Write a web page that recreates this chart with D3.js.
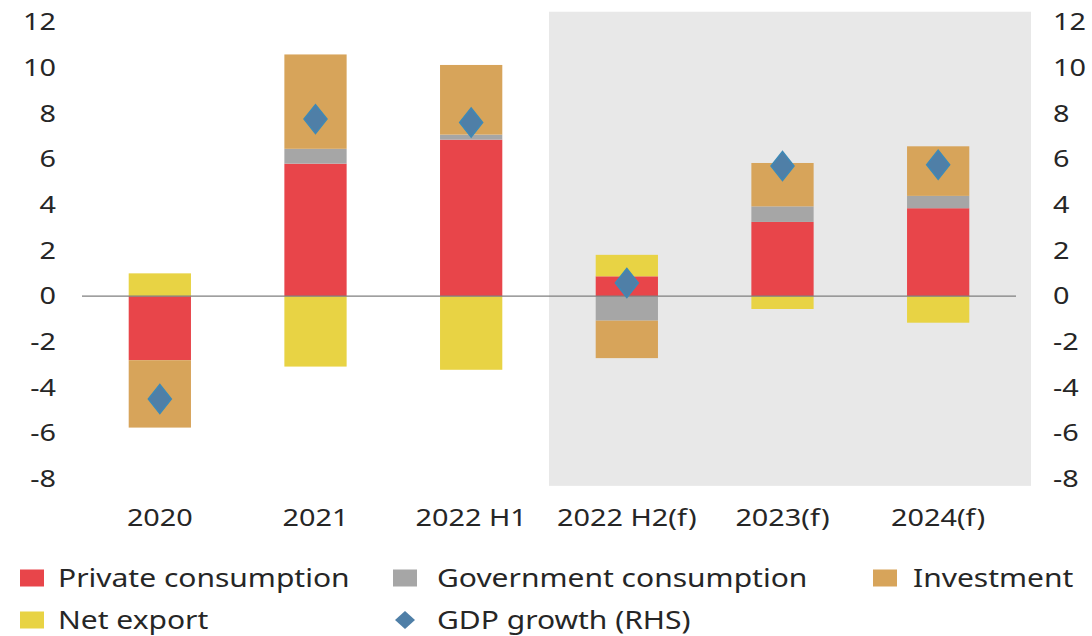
<!DOCTYPE html>
<html>
<head>
<meta charset="utf-8">
<script src="https://cdn.jsdelivr.net/npm/d3@7"></script>
<style>
  body { margin: 0; background: #fff; }
  text { font-family: "Noto Sans", "Open Sans", sans-serif; fill: #262626; }
</style>
</head>
<body>
<div id="chart"></div>
<script>
/**
 * DATA
 **/
const categories = ["2020", "2021", "2022 H1", "2022 H2(f)", "2023(f)", "2024(f)"];
const privateConsumption = [-2.8, 5.8, 6.85, 0.87, 3.25, 3.85];
const governmentConsumption = [0, 0.65, 0.22, -1.07, 0.68, 0.54];
const investment = [-2.95, 4.13, 3.05, -1.64, 1.9, 2.17];
const netExport = [1.0, -3.08, -3.22, 0.94, -0.56, -1.16];
const gdpGrowth = [-4.5, 7.75, 7.6, 0.58, 5.7, 5.75];
const yTicks = [-8, -6, -4, -2, 0, 2, 4, 6, 8, 10, 12];
const forecastFrom = "2022 H2(f)";

const seriesKeys = ["Private consumption", "Government consumption", "Investment", "Net export"];
const seriesValues = [privateConsumption, governmentConsumption, investment, netExport];
const colors = ["#E8454A", "#A6A6A6", "#D7A45A", "#E8D344"];

/**
 * CONSTANTS
 **/
const width = 1092, height = 636,
  stretch = "scale(1.2,1)"; // the source text is drawn a bit wide

const svg = d3.select("#chart")
  .append("svg")
  .attr("width", width)
  .attr("height", height);

// SCALES
const xScale = d3.scaleBand()
  .domain(categories)
  .range([82, 1016])
  .paddingInner(0.6)
  .paddingOuter(0.3);

const yScale = d3.scaleLinear()
  .domain([-8, 12])
  .range([479, 22]);

// table for the stack
const table = categories.map((c, i) => {
  const row = { category: c };
  seriesKeys.forEach((k, j) => row[k] = seriesValues[j][i]);
  return row;
});

const stacked = d3.stack()
  .keys(seriesKeys)
  .offset(d3.stackOffsetDiverging)(table);

// forecast shading
const shadeLeft = xScale(forecastFrom) - (xScale.step() - xScale.bandwidth()) / 2;
svg.append("rect")
  .attr("x", shadeLeft)
  .attr("y", yScale(12.45))
  .attr("width", 1031 - shadeLeft)
  .attr("height", yScale(-8.3) - yScale(12.45))
  .attr("fill", "#E8E8E8");

// bars
svg.append("g")
  .selectAll("g")
  .data(stacked)
  .join("g")
  .attr("fill", (d, i) => colors[i])
  .selectAll("rect")
  .data(d => d)
  .join("rect")
  .attr("x", d => xScale(d.data.category))
  .attr("width", xScale.bandwidth())
  .attr("y", d => yScale(Math.max(d[0], d[1])))
  .attr("height", d => Math.abs(yScale(d[0]) - yScale(d[1])));

// zero line
svg.append("line")
  .attr("x1", xScale.range()[0])
  .attr("x2", xScale.range()[1])
  .attr("y1", yScale(0))
  .attr("y2", yScale(0))
  .attr("stroke", "#7F7F7F")
  .attr("stroke-width", 1.3);

// GDP diamonds
const diamond = "M0,-14.5L11.5,0L0,14.5L-11.5,0Z";
svg.append("g")
  .selectAll("path")
  .data(gdpGrowth)
  .join("path")
  .attr("d", diamond)
  .attr("transform", (d, i) => `translate(${xScale(categories[i]) + xScale.bandwidth() / 2},${yScale(d)})`)
  .attr("fill", "#4F7FA7")
  .attr("stroke", "#3E89B6")
  .attr("stroke-width", 1.5);

// AXES (plain hyphen for negatives, like the source)
const tickFmt = d => String(d);
const yAxisLeft = d3.axisLeft(yScale).tickValues(yTicks).tickFormat(tickFmt).tickSize(0).tickPadding(0);
const yAxisRight = d3.axisRight(yScale).tickValues(yTicks).tickFormat(tickFmt).tickSize(0).tickPadding(0);

svg.append("g")
  .attr("transform", "translate(56,0)")
  .call(yAxisLeft)
  .call(g => g.select(".domain").remove())
  .selectAll("text")
  .attr("x", 0)
  .attr("transform", stretch)
  .style("font-size", "24px")
  .attr("fill", "#262626");

svg.append("g")
  .attr("transform", "translate(1053,0)")
  .call(yAxisRight)
  .call(g => g.select(".domain").remove())
  .selectAll("text")
  .attr("x", 0)
  .attr("transform", stretch)
  .style("font-size", "24px")
  .attr("fill", "#262626");

const xAxis = d3.axisBottom(xScale).tickSize(0).tickPadding(0);
svg.append("g")
  .attr("transform", "translate(0,518)")
  .call(xAxis)
  .call(g => g.select(".domain").remove())
  .selectAll("text")
  .attr("y", 0)
  .attr("dy", "0.35em")
  .attr("transform", stretch)
  .style("font-size", "24px")
  .attr("fill", "#262626");

// LEGEND
const legendItems = [
  { label: "Private consumption", color: colors[0], x: 20, y: 578, tx: 38 },
  { label: "Government consumption", color: colors[1], x: 393, y: 578, tx: 44 },
  { label: "Investment", color: colors[2], x: 873, y: 578, tx: 40 },
  { label: "Net export", color: colors[3], x: 20, y: 620, tx: 38 },
  { label: "GDP growth (RHS)", color: "#4F7FA7", x: 393, y: 620, tx: 44, marker: true }
];

const legend = svg.append("g")
  .selectAll("g")
  .data(legendItems)
  .join("g")
  .attr("transform", d => `translate(${d.x},${d.y})`);

legend.filter(d => !d.marker)
  .append("rect")
  .attr("x", 0)
  .attr("y", -8.5)
  .attr("width", 24)
  .attr("height", 17)
  .attr("fill", d => d.color);

legend.filter(d => d.marker)
  .append("path")
  .attr("d", "M12,-9L22,0L12,9L2,0Z")
  .attr("fill", "#4F7FA7");

legend.append("text")
  .attr("dy", "0.35em")
  .attr("transform", d => `translate(${d.tx},0) ${stretch}`)
  .style("font-size", "25px")
  .text(d => d.label);
</script>
</body>
</html>
